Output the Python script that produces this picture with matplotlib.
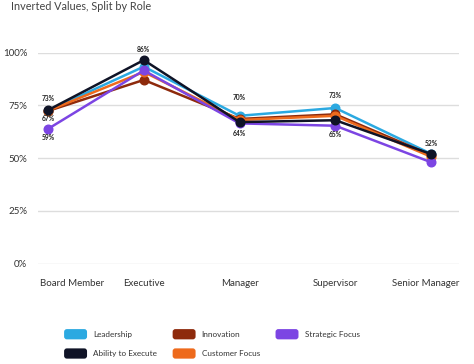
import matplotlib
matplotlib.use("Agg")
import matplotlib.pyplot as plt
import matplotlib.transforms as mtransforms
from matplotlib.patches import Patch, FancyBboxPatch
from matplotlib.legend_handler import HandlerPatch

plt.rcParams['font.family'] = ['Lato', 'DejaVu Sans']

roles = ["Board Member", "Executive", "Manager", "Supervisor", "Senior Manager"]
leadership = [72.5, 93.3, 70.0, 73.7, 52.0]
innovation = [72.3, 87.0, 68.5, 70.7, 51.4]
strategic_focus = [63.8, 91.5, 66.4, 65.3, 48.0]
ability_to_execute = [72.7, 96.4, 67.0, 67.9, 51.9]
customer_focus = [72.4, 90.8, 68.0, 70.0, 50.6]

yticks = [0, 25, 50, 75, 100]
ytick_labels = ["0%", "25%", "50%", "75%", "100%"]

# data labels: (category index, anchor value, text, offset points)
label_texts = ["73%", "67%", "59%", "86%", "70%", "64%", "73%", "65%", "52%"]
label_cats = [0, 0, 0, 1, 2, 2, 3, 3, 4]
label_anchor = [72.7, 72.7, 63.8, 96.4, 70.0, 66.4, 73.7, 65.3, 51.9]
label_dy = [8.0, -6.0, -6.0, 7.5, 13.0, -7.0, 9.0, -6.5, 7.5]

colors = {
    "Leadership": "#2BA9E1",
    "Innovation": "#8E2A0C",
    "Strategic Focus": "#7C45E3",
    "Ability to Execute": "#0F1326",
    "Customer Focus": "#EE6A1C",
}

series = [
    ("Leadership", leadership),
    ("Innovation", innovation),
    ("Customer Focus", customer_focus),
    ("Strategic Focus", strategic_focus),
    ("Ability to Execute", ability_to_execute),
]

W, H = 474, 364
fig = plt.figure(figsize=(W / 100, H / 100), dpi=100)
ax = fig.add_axes([37.7 / W, 1 - 263.5 / H, (459 - 37.7) / W, (263.5 - 52.5) / H])

x = list(range(len(roles)))
for name, vals in series:
    ax.plot(x, vals, color=colors[name], lw=1.8, marker='o', ms=6.2,
            clip_on=False, zorder=3, solid_joinstyle='miter')

for t, c, v, dy in zip(label_texts, label_cats, label_anchor, label_dy):
    ax.annotate(t, (c, v), xytext=(0, dy), textcoords='offset points',
                ha='center', va='center', fontsize=4.8, fontweight='bold',
                color='#222222')

ax.set_ylim(0, 100)
ax.set_xlim(-0.108, 4.292)
ax.set_yticks(yticks)
ax.set_yticklabels(ytick_labels)
ax.set_xticks(x)
ax.set_xticklabels(roles)
ax.grid(axis='y', color='#DDDDDD', lw=1.0, zorder=0)
ax.set_axisbelow(True)
for s in ax.spines.values():
    s.set_visible(False)
ax.tick_params(axis='both', length=0, labelsize=7, labelcolor='#333333')
ax.tick_params(axis='y', pad=7.5)
ax.tick_params(axis='x', pad=11)

# first label aligned to the left edge, last to the right edge of the plot
xt = ax.get_xticklabels()
xt[0].set_ha('left')
xt[0].set_transform(xt[0].get_transform() + mtransforms.ScaledTranslation(-8 / 100, 0, fig.dpi_scale_trans))
xt[-1].set_ha('right')
xt[-1].set_transform(xt[-1].get_transform() + mtransforms.ScaledTranslation(28 / 100, 0, fig.dpi_scale_trans))

fig.text(11 / W, 1 - 6 / H, "Inverted Values, Split by Role", fontsize=7.8,
         color='#444444', ha='left', va='center')


def rounded(legend, orig_handle, xdescent, ydescent, width, height, fontsize):
    return FancyBboxPatch((-xdescent, -ydescent), width, height,
                          boxstyle="round,pad=0,rounding_size=2")


handles_order = ["Leadership", "Ability to Execute", "Innovation",
                 "Customer Focus", "Strategic Focus"]
handles = [Patch(facecolor=colors[n], edgecolor='none', label=n) for n in handles_order]
fig.legend(handles=handles, ncol=3, loc='upper left',
           bbox_to_anchor=(60 / W, 1 - 325 / H), frameon=False,
           fontsize=5.9, handlelength=2.8, handleheight=1.55,
           handletextpad=0.75, columnspacing=1.9, labelspacing=1.1,
           borderpad=0, labelcolor='#333333',
           handler_map={Patch: HandlerPatch(patch_func=rounded)})

fig.savefig("out.png", dpi=100)
